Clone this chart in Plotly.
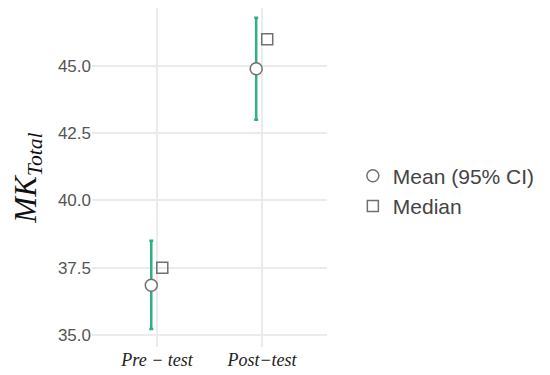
import plotly.graph_objects as go

# data
phases = ["Pre − test", "Post−test"]
mean_vals = [36.85, 44.9]
ci_low = [35.22, 43.0]
ci_high = [38.5, 46.8]
median_vals = [37.5, 46.0]

pos = [1, 2]
mean_x = [p - 0.055 for p in pos]
median_x = [p + 0.05 for p in pos]

green = "#2eaf86"
grey = "#707070"

fig = go.Figure()
fig.add_trace(go.Scatter(
    x=mean_x, y=mean_vals, mode="markers", name="Mean (95% CI)",
    marker=dict(symbol="circle", size=12, color="white", line=dict(color=grey, width=1.5)),
    error_y=dict(type="data", symmetric=False,
                 array=[h - m for h, m in zip(ci_high, mean_vals)],
                 arrayminus=[m - l for m, l in zip(mean_vals, ci_low)],
                 color=green, thickness=2.5, width=2),
))
fig.add_trace(go.Scatter(
    x=median_x, y=median_vals, mode="markers", name="Median",
    marker=dict(symbol="square-open", size=11, color=grey, line=dict(width=1.5)),
))

# the page body adds an 8px offset, margins compensate for it
fig.update_layout(
    width=550, height=375, template="plotly_white",
    plot_bgcolor="white", paper_bgcolor="white",
    margin=dict(l=84, r=231, t=0, b=36, autoexpand=False),
    font=dict(family="Liberation Sans, Arial, sans-serif", color="#555555"),
    xaxis=dict(range=[0.38, 2.62], tickvals=pos,
               ticktext=[f"<i>{p}</i>" for p in phases],
               tickfont=dict(family="Liberation Serif, DejaVu Serif, serif", size=18, color="#222222"),
               showgrid=True, gridcolor="#ebebeb", gridwidth=1.5, zeroline=False,
               showline=False, ticks="", ticklen=0),
    yaxis=dict(range=[34.55, 47.16], tickvals=[35, 37.5, 40, 42.5, 45],
               tickformat=".1f", tickfont=dict(size=17, color="#555555"),
               showgrid=True, gridcolor="#ebebeb", gridwidth=1.5, zeroline=False,
               showline=False, ticks="",
               title=dict(text="<i>MK</i><sub><i>Total</i></sub>",
                          font=dict(family="Liberation Serif, DejaVu Serif, serif", size=31, color="#111111"),
                          standoff=12)),
    legend=dict(x=1.11, y=0.46, xanchor="left", yanchor="middle",
                font=dict(size=21, color="#444444"), bgcolor="rgba(0,0,0,0)",
                tracegroupgap=0),
    showlegend=True,
)

fig.write_html("out.html")
